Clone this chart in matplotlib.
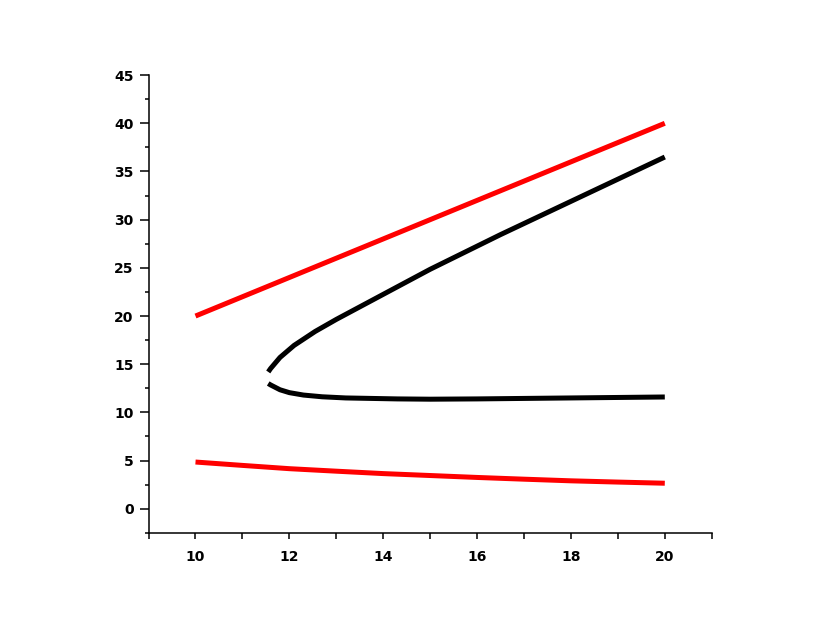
import matplotlib
matplotlib.use("Agg")
import matplotlib.pyplot as plt
from matplotlib.ticker import MultipleLocator

# upper red line
red_up_x = [10, 12, 14, 16, 18, 20]
red_up_y = [20.0, 24.0, 28.0, 32.0, 36.0, 40.0]

# lower red line
red_lo_x = [10, 11, 12, 13, 14, 15, 16, 17, 18, 19, 20]
red_lo_y = [4.85, 4.5, 4.16, 3.9, 3.65, 3.45, 3.25, 3.07, 2.9, 2.77, 2.65]

# black curve, upper branch
blk_up_x = [11.55, 11.6, 11.8, 12.1, 12.55, 13.0, 13.5, 14.0, 14.5, 15.0,
            15.5, 16.0, 16.5, 17.0, 18.0, 19.0, 20.0]
blk_up_y = [14.2, 14.55, 15.7, 16.95, 18.4, 19.65, 20.95, 22.25, 23.55, 24.85,
            26.05, 27.25, 28.45, 29.6, 31.9, 34.2, 36.5]

# black curve, lower branch
blk_lo_x = [11.55, 11.6, 11.8, 12.0, 12.3, 12.7, 13.2, 14.3, 15.0, 16.0,
            17.0, 18.0, 19.0, 20.0]
blk_lo_y = [13.0, 12.85, 12.35, 12.05, 11.8, 11.62, 11.5, 11.4, 11.37, 11.4,
            11.45, 11.5, 11.55, 11.6]

fig = plt.figure(figsize=(8.3, 6.42), dpi=100)
ax = fig.add_axes([0.179, 0.170, 0.6785, 0.713])

for xs, ys, c in [(red_up_x, red_up_y, '#ff0000'), (red_lo_x, red_lo_y, '#ff0000'),
                  (blk_up_x, blk_up_y, 'black'), (blk_lo_x, blk_lo_y, 'black')]:
    ax.plot(xs, ys, color=c, linewidth=3.6, solid_capstyle='butt',
            solid_joinstyle='round')

ax.set_xlim(9, 21)
ax.set_ylim(-2.5, 45)

ax.spines['top'].set_visible(False)
ax.spines['right'].set_visible(False)
ax.spines['left'].set_linewidth(1.1)
ax.spines['bottom'].set_linewidth(1.1)

ax.xaxis.set_minor_locator(MultipleLocator(1))
ax.yaxis.set_minor_locator(MultipleLocator(2.5))
ax.set_xticks([10, 12, 14, 16, 18, 20])
ax.set_yticks([0, 5, 10, 15, 20, 25, 30, 35, 40, 45])

ax.tick_params(axis='x', which='major', length=4.5, width=1.1, pad=8)
ax.tick_params(axis='x', which='minor', length=4.5, width=1.1)
ax.tick_params(axis='y', which='major', length=6.8, width=1.1, pad=4)
ax.tick_params(axis='y', which='minor', length=3.2, width=1.1)

for lab in ax.get_xticklabels() + ax.get_yticklabels():
    lab.set_fontfamily('DejaVu Sans')
    lab.set_fontweight('bold')
    lab.set_fontsize(10)

fig.savefig('out.png', dpi=100, facecolor='white')
